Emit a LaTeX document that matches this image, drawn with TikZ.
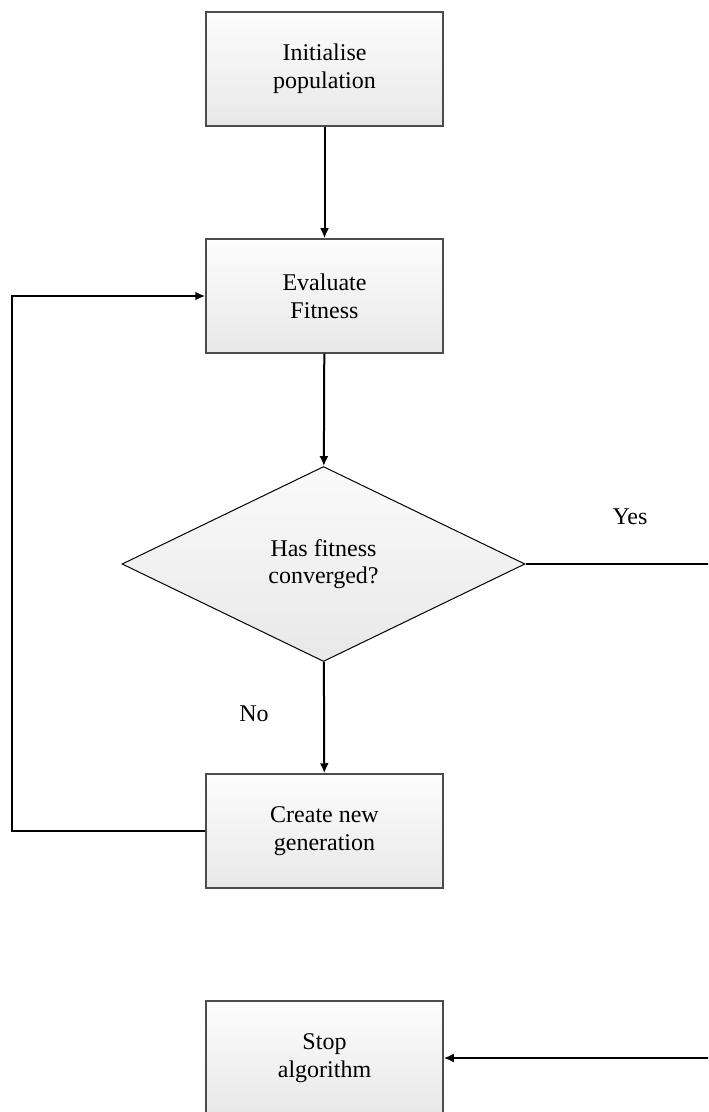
\documentclass[tikz,border=0pt]{standalone}
\usepackage{fontspec}
\setmainfont{Liberation Serif}
\usetikzlibrary{arrows,arrows.meta,positioning,shapes,calc,shapes.geometric}

\begin{document}
\begin{tikzpicture}[x=0.5pt, y=-0.5pt,
        box/.style={rectangle, draw=black!70, line width=0.75pt, top color=black!1, bottom color=black!9,
                    minimum width=118.5pt, minimum height=57pt, align=center, font=\fontsize{12}{13.8}\selectfont},
        decide/.style={diamond, draw, line width=0.5pt, top color=black!2, bottom color=black!9, inner sep=0pt,
                    minimum width=201.5pt, minimum height=97.5pt, align=center, font=\fontsize{12}{13.8}\selectfont},
        lbl/.style={font=\fontsize{12}{13.8}\selectfont},
        flow/.style={draw, line width=1pt, -{Latex[length=5pt, width=4.5pt]}}]
        \useasboundingbox (0, 0) rectangle (708, 1112);
        \clip (0, 0) rectangle (708, 1112);
        %nodes
        \node[box] (init) at (324.5, 69) {Initialise\\population};
        \node[box] (eval) at (324.5, 296) {Evaluate\\Fitness};
        \node[decide] (conv) at (323.5, 564) {Has fitness\\converged?};
        \node[box] (gen) at (324.5, 831) {Create new\\generation};
        \node[box] (stop) at (324.5, 1058) {Stop\\algorithm};
        \node[lbl] (yes) at (630, 517) {Yes};
        \node[lbl] (no) at (254, 714) {No};
        %edges
        \path [flow] (init) to (eval);
        \path [flow] (eval) to (conv);
        \path [flow] (conv) to (gen);
        \path [flow] (gen.west) -- ++(-193, 0) |- (eval.west);
        \path [flow] (conv.east) -- (716, 564) |- (stop.east);
      \end{tikzpicture}
\end{document}
